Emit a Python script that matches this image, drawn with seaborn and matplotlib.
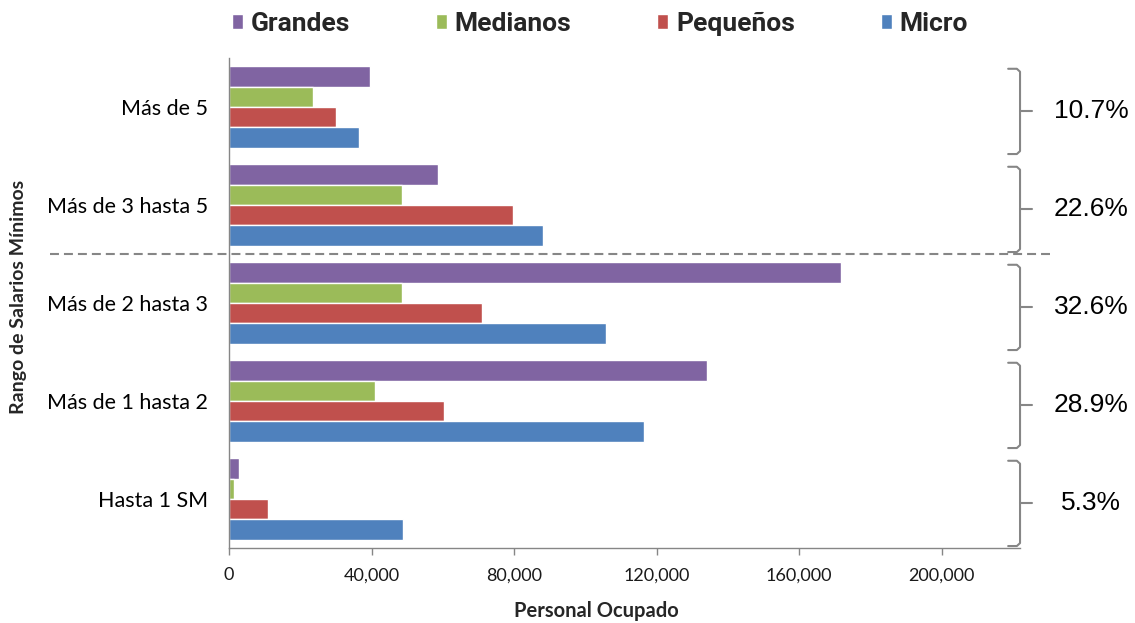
import numpy as np
import pandas as pd
import seaborn as sns
import matplotlib.pyplot as plt
from matplotlib.patches import Patch
from matplotlib.ticker import FuncFormatter
from matplotlib.transforms import blended_transform_factory

categories = ["Más de 5", "Más de 3 hasta 5", "Más de 2 hasta 3", "Más de 1 hasta 2", "Hasta 1 SM"]
sizes = ["Grandes", "Medianos", "Pequeños", "Micro"]
grandes = [39700, 58600, 171800, 134200, 2800]
medianos = [23700, 48600, 48600, 41000, 1300]
pequenos = [29900, 79700, 70900, 60300, 10900]
micro = [36600, 88100, 105700, 116500, 48900]
shares = ["10.7%", "22.6%", "32.6%", "28.9%", "5.3%"]
colors = ["#8064A2", "#9BBB59", "#C0504D", "#4F81BD"]

sns.set_style("white")
plt.rcParams['font.family'] = ['Lato', 'DejaVu Sans']

df = pd.DataFrame({
    "rango": categories * 4,
    "tamano": [s for s in sizes for _ in categories],
    "personal": grandes + medianos + pequenos + micro,
})

fig, ax = plt.subplots(figsize=(11.35, 6.23), dpi=100)
fig.subplots_adjust(left=0.2018, right=0.8987, bottom=0.1204, top=0.9069)

sns.barplot(data=df, y="rango", x="personal", hue="tamano", order=categories,
            hue_order=sizes, palette=colors, saturation=1, width=0.83,
            orient="h", legend=False, ax=ax)

grey = "#868686"
tr = blended_transform_factory(ax.transAxes, ax.transData)

# curly brackets with the share of each range
for i, share in enumerate(shares):
    top, bot = i - 0.39, i + 0.48
    mid = (top + bot) / 2
    ax.plot([0.985, 0.996, 1.0, 1.0, 0.996, 0.985],
            [top, top, top + 0.03, bot - 0.03, bot, bot],
            transform=tr, clip_on=False, color=grey, lw=1.5)
    ax.plot([1.0, 1.015], [mid, mid], transform=tr, clip_on=False, color=grey, lw=1.5)
    ax.text(1.09, mid, share, transform=tr, ha="center", va="center",
            fontsize=19, family=["Liberation Sans", "DejaVu Sans"], color="black")

# dashed separator
ax.plot([-0.226, 1.044], [1.5, 1.5], transform=tr, clip_on=False,
        color=grey, lw=1.5, dashes=(4.3, 2.4))

ax.set_xlim(0, 222000)
ax.set_ylim(4.5, -0.5)
ax.set_xticks(np.arange(0, 200001, 40000))
ax.xaxis.set_major_formatter(FuncFormatter(lambda v, p: f"{int(v):,}"))
ax.set_yticks(range(len(categories)))
ax.set_yticklabels(categories)
ax.set_yticks(np.arange(-0.5, 5, 1), minor=True)

ax.tick_params(axis="y", which="major", length=0, pad=15, labelsize=15.5, labelcolor="black")
ax.tick_params(axis="y", which="minor", length=6, width=1, color=grey, direction="out")
ax.tick_params(axis="x", length=5, width=1, color=grey, direction="out", pad=9,
               labelsize=13, labelcolor="#1a1a1a", bottom=True)

for side in ["top", "right"]:
    ax.spines[side].set_visible(False)
for side in ["left", "bottom"]:
    ax.spines[side].set_color(grey)
    ax.spines[side].set_linewidth(1)

ax.set_xlabel("Personal Ocupado", fontsize=14.5, fontweight="bold")
ax.xaxis.set_label_coords(0.465, -0.108)
ax.set_ylabel("Rango de Salarios Mínimos", fontsize=14, fontweight="bold")
ax.yaxis.set_label_coords(-0.255, 0.512)

handles = [Patch(facecolor=c, label=s) for c, s in zip(colors, sizes)]
fig.legend(handles=handles, loc="center", bbox_to_anchor=(0.5286, 0.962), ncol=4,
           frameon=False, prop={"family": ["Roboto", "DejaVu Sans"],
                                "weight": "bold", "size": 19},
           handlelength=0.42, handleheight=0.5, handletextpad=0.3, columnspacing=3.25)

plt.savefig("out.png", dpi=100)
